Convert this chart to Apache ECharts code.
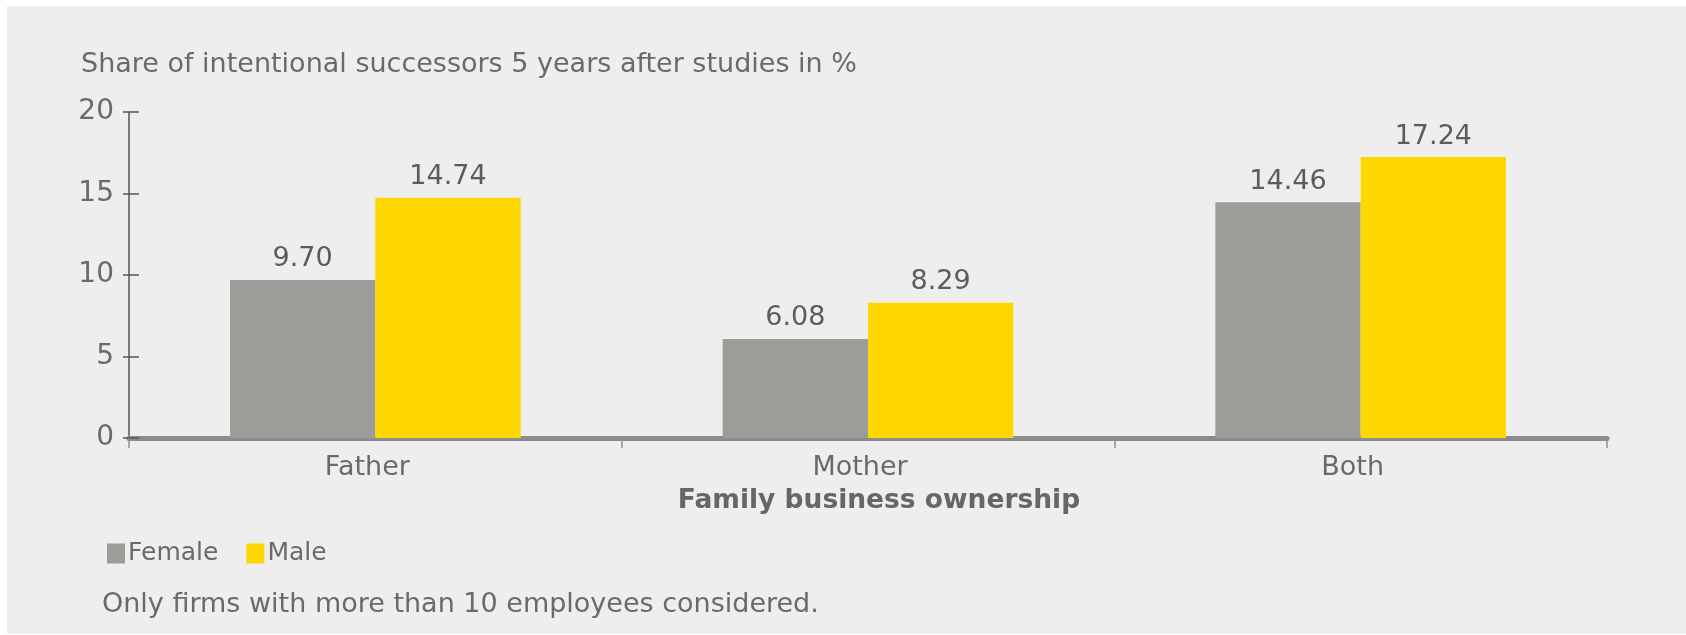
<!DOCTYPE html>
<html>
<head>
<meta charset="utf-8">
<script src="https://cdn.jsdelivr.net/npm/echarts@6/dist/echarts.min.js"></script>
<style>
  html, body { margin: 0; padding: 0; background: #ffffff; }
  #wrap { position: relative; width: 1686px; height: 635px; overflow: hidden; }
  #panel { position: absolute; left: 7px; top: 6px; right: 0; bottom: 1px; background: #eeeeee; }
  #chart { position: absolute; left: 0; top: 0; width: 1686px; height: 635px; }
</style>
</head>
<body>
<div id="wrap">
  <div id="panel"></div>
  <div id="chart"></div>
</div>
<script>
// Family business ownership categories
const categories = ['Father', 'Mother', 'Both'];
// Share of intentional successors (%) by gender
const femaleValues = [9.70, 6.08, 14.46];
const maleValues = [14.74, 8.29, 17.24];
// Value axis ticks
const yTicks = [0, 5, 10, 15, 20];

const FONT = '"DejaVu Sans", sans-serif';
const TEXT = '#6a6a6a';

const chart = echarts.init(document.getElementById('chart'), null, { renderer: 'canvas' });

const labelStyle = {
  show: true,
  position: 'top',
  distance: 7,
  formatter: p => p.value.toFixed(2),
  fontFamily: FONT,
  fontSize: 27,
  color: '#5c5c5c'
};

chart.setOption({
  backgroundColor: 'transparent',
  animation: false,
  textStyle: { fontFamily: FONT },
  title: [
    {
      text: 'Share of intentional successors 5 years after studies in %',
      left: 76,
      top: 46,
      textStyle: { fontFamily: FONT, fontSize: 27, fontWeight: 'normal', color: TEXT }
    },
    {
      text: 'Only firms with more than 10 employees considered.',
      left: 97,
      top: 586,
      textStyle: { fontFamily: FONT, fontSize: 27, fontWeight: 'normal', color: TEXT }
    }
  ],
  legend: {
    left: 102,
    top: 536,
    icon: 'rect',
    itemWidth: 18,
    itemHeight: 20,
    itemGap: 28,
    textStyle: { fontFamily: FONT, fontSize: 25, color: TEXT, padding: [0, 0, 0, -2] },
    data: ['Female', 'Male']
  },
  grid: { left: 129, right: 79, top: 112, bottom: 197, containLabel: false },
  xAxis: {
    type: 'category',
    data: categories,
    boundaryGap: true,
    name: 'Family business ownership',
    nameLocation: 'middle',
    nameGap: 50,
    nameTextStyle: { fontFamily: FONT, fontSize: 26.5, fontWeight: 'bold', color: '#666666', padding: [0, 0, 0, 22] },
    axisLine: { show: true, lineStyle: { color: '#8c8c8c', width: 5 } },
    axisTick: { show: true, alignWithLabel: false, length: 10, lineStyle: { color: '#8f8f8f', width: 1.5 } },
    axisLabel: { fontFamily: FONT, fontSize: 27, color: TEXT, margin: 16, padding: [0, 16, 0, 0] }
  },
  yAxis: [
    {
      type: 'value',
      min: yTicks[0],
      max: yTicks[yTicks.length - 1],
      interval: yTicks[1] - yTicks[0],
      axisLine: { show: true, lineStyle: { color: '#555555', width: 1.5 } },
      axisTick: { show: true, inside: false, length: 6, lineStyle: { color: '#555555', width: 1.5 } },
      axisLabel: { fontFamily: FONT, fontSize: 28, color: TEXT, margin: 15 },
      splitLine: { show: false }
    },
    {
      type: 'value',
      position: 'left',
      min: yTicks[0],
      max: yTicks[yTicks.length - 1],
      interval: yTicks[1] - yTicks[0],
      axisLine: { show: false },
      axisTick: { show: true, inside: true, length: 10, lineStyle: { color: '#555555', width: 1.5 } },
      axisLabel: { show: false },
      splitLine: { show: false }
    }
  ],
  series: [
    {
      name: 'Female',
      type: 'bar',
      data: femaleValues,
      yAxisIndex: 0,
      barGap: '0%',
      barCategoryGap: '41%',
      itemStyle: { color: '#9c9c98' },
      label: labelStyle
    },
    {
      name: 'Male',
      type: 'bar',
      data: maleValues,
      yAxisIndex: 0,
      barGap: '0%',
      barCategoryGap: '41%',
      itemStyle: { color: '#ffd700' },
      label: labelStyle
    }
  ]
});
</script>
</body>
</html>
